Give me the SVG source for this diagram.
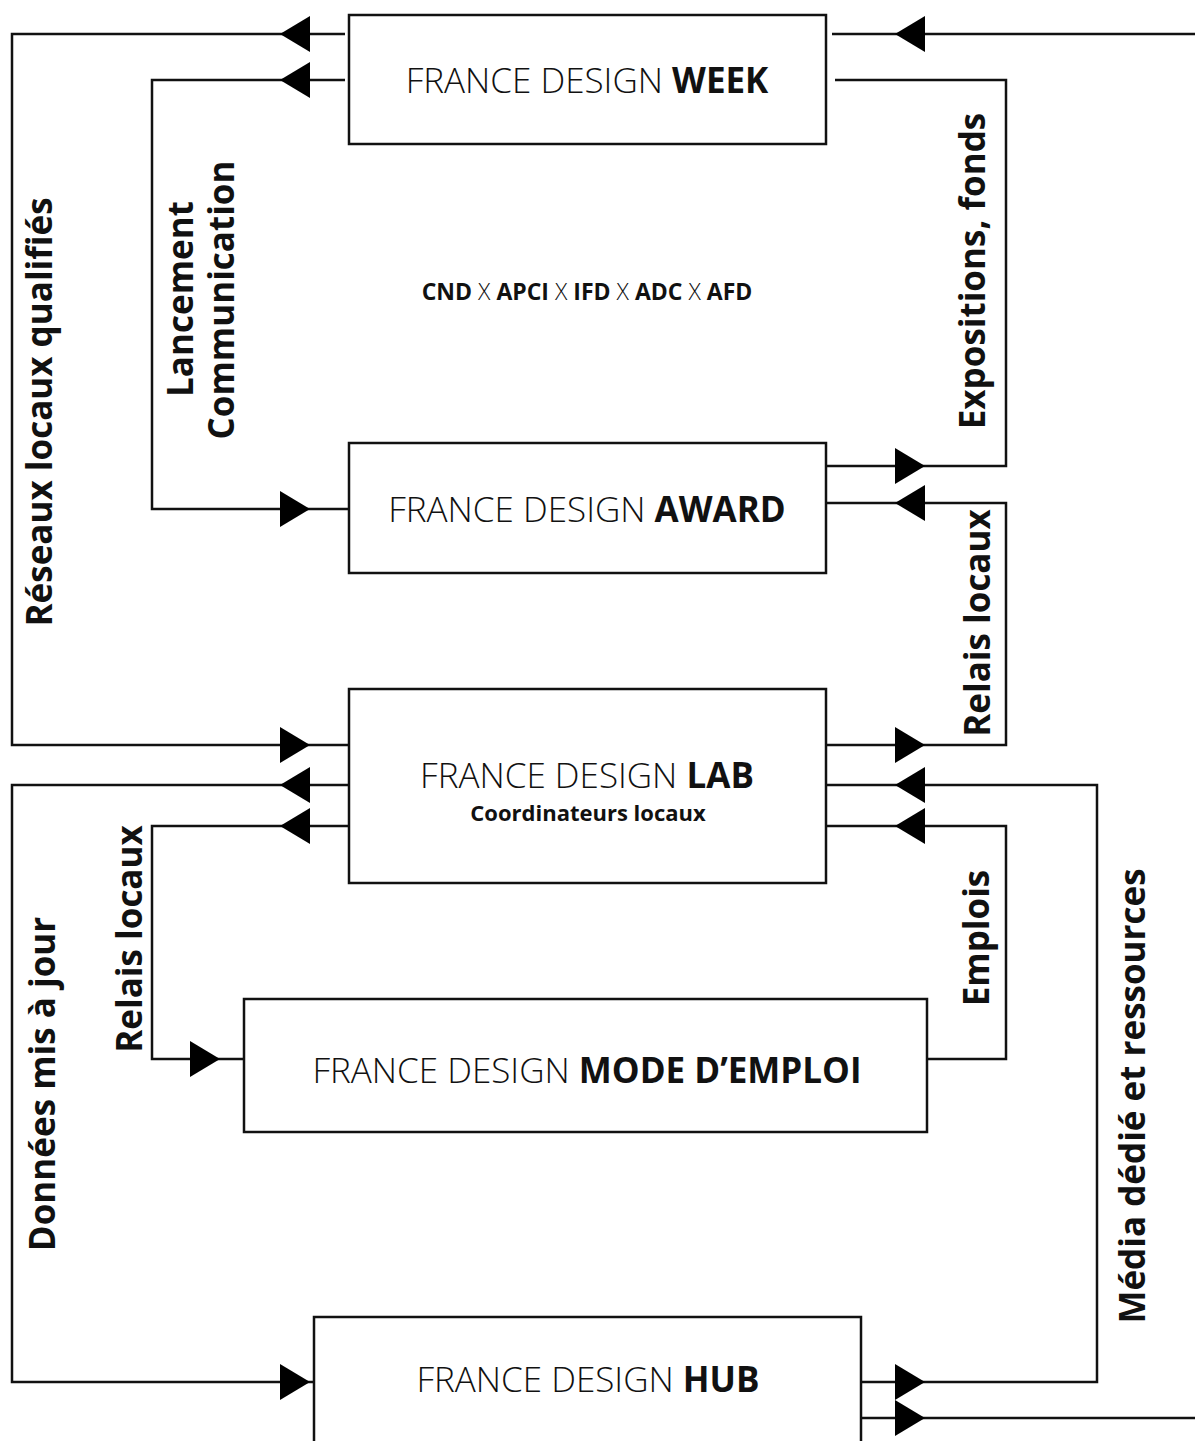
<svg xmlns="http://www.w3.org/2000/svg" xmlns:xlink="http://www.w3.org/1999/xlink" width="1195" height="1441" viewBox="0 0 1195 1441">
<style>
.box{fill:#fff;stroke:#111;stroke-width:2.5}
.ln{fill:none;stroke:#111;stroke-width:2.5}
.ttl{font-family:"Open Sans","Liberation Sans",sans-serif;font-size:35px;font-weight:300;fill:#111;text-anchor:middle}
.ttl tspan.b{font-weight:700}
.lbl{font-family:"Open Sans","Liberation Sans",sans-serif;font-size:35px;font-weight:700;fill:#111;text-anchor:middle}
.sub{font-family:"Open Sans","Liberation Sans",sans-serif;font-size:22px;font-weight:700;fill:#111;text-anchor:middle}
.ctr{font-family:"Open Sans","Liberation Sans",sans-serif;font-size:23px;font-weight:700;fill:#111;text-anchor:middle}
.ctr tspan.x{font-weight:300}
</style>
<defs>
<path id="ar" d="M0,0 L-30,-18 L-30,18 Z" fill="#000"/>
<path id="al" d="M0,0 L30,-18 L30,18 Z" fill="#000"/>
</defs>
<rect width="1195" height="1441" fill="#fff"/>
<g id="connectors">
<path class="ln" d="M345,34 H12 V745 H349"/>
<path class="ln" d="M345,80 H152 V509 H349"/>
<path class="ln" d="M832,34 H1195"/>
<path class="ln" d="M835,80 H1006 V466 H826"/>
<path class="ln" d="M826,503 H1006 V745 H826"/>
<path class="ln" d="M826,785 H1097 V1382 H861"/>
<path class="ln" d="M826,826 H1006 V1059 H927"/>
<path class="ln" d="M861,1418 H1195"/>
<path class="ln" d="M349,785 H12 V1382 H314"/>
<path class="ln" d="M349,826 H152 V1059 H244"/>
<use xlink:href="#al" x="280" y="34"/>
<use xlink:href="#al" x="280" y="80"/>
<use xlink:href="#al" x="280" y="785"/>
<use xlink:href="#al" x="280" y="826"/>
<use xlink:href="#ar" x="310" y="509"/>
<use xlink:href="#ar" x="310" y="745"/>
<use xlink:href="#ar" x="310" y="1382"/>
<use xlink:href="#ar" x="220" y="1059"/>
<use xlink:href="#ar" x="925" y="466"/>
<use xlink:href="#ar" x="925" y="745"/>
<use xlink:href="#ar" x="925" y="1382"/>
<use xlink:href="#ar" x="925" y="1418"/>
<use xlink:href="#al" x="895" y="34"/>
<use xlink:href="#al" x="895" y="503"/>
<use xlink:href="#al" x="895" y="785"/>
<use xlink:href="#al" x="895" y="826"/>
<text class="lbl" transform="translate(52,412) rotate(-90)">Réseaux locaux qualifiés</text>
<text class="lbl" transform="translate(193,299) rotate(-90)">Lancement</text>
<text class="lbl" transform="translate(234,300) rotate(-90)">Communication</text>
<text class="lbl" transform="translate(985,271) rotate(-90)">Expositions, fonds</text>
<text class="lbl" transform="translate(990,623) rotate(-90)">Relais locaux</text>
<text class="lbl" transform="translate(142,939) rotate(-90)">Relais locaux</text>
<text class="lbl" transform="translate(55,1084) rotate(-90)">Données mis à jour</text>
<text class="lbl" transform="translate(989,938) rotate(-90)">Emplois</text>
<text class="lbl" transform="translate(1145,1096) rotate(-90)">Média dédié et ressources</text>
</g>
<g id="week"><rect class="box" x="349" y="15" width="477" height="129"/><text class="ttl" x="587" y="93">FRANCE DESIGN <tspan class="b">WEEK</tspan></text></g>
<g id="award"><rect class="box" x="349" y="443" width="477" height="130"/><text class="ttl" x="587" y="522">FRANCE DESIGN <tspan class="b">AWARD</tspan></text></g>
<g id="lab"><rect class="box" x="349" y="689" width="477" height="194"/><text class="ttl" x="587" y="788">FRANCE DESIGN <tspan class="b">LAB</tspan></text><text class="sub" x="588" y="821">Coordinateurs locaux</text></g>
<g id="mode"><rect class="box" x="244" y="999" width="683" height="133"/><text class="ttl" x="587" y="1083">FRANCE DESIGN <tspan class="b">MODE D’EMPLOI</tspan></text></g>
<g id="hub"><rect class="box" x="314" y="1317" width="547" height="140"/><text class="ttl" x="588" y="1392">FRANCE DESIGN <tspan class="b">HUB</tspan></text></g>
<g id="partners"><text class="ctr" x="587" y="300">CND <tspan class="x">X</tspan> APCI <tspan class="x">X</tspan> IFD <tspan class="x">X</tspan> ADC <tspan class="x">X</tspan> AFD</text></g>
</svg>
